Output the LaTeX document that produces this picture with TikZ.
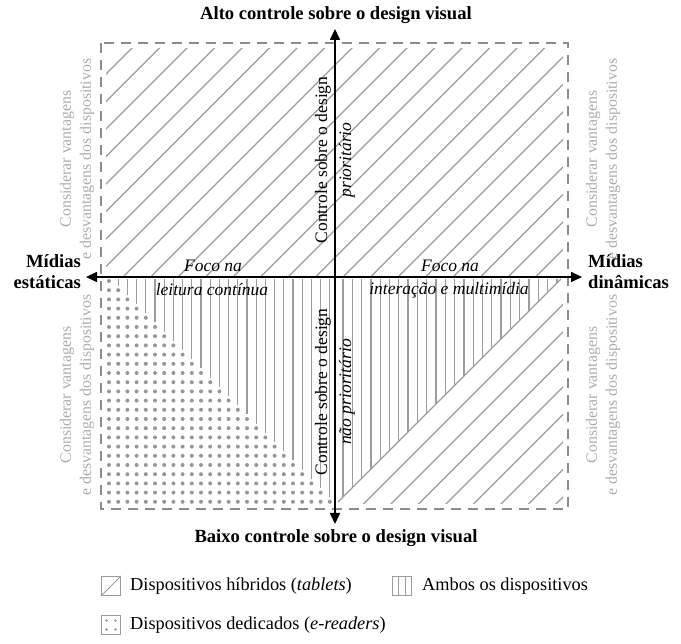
\documentclass[tikz,border=0pt]{standalone}
\usepackage{fontspec}
\setmainfont{Liberation Serif}
\usetikzlibrary{arrows.meta,calc}
\definecolor{hatch}{HTML}{9C9C9C}
\definecolor{dotgray}{HTML}{979797}
\definecolor{dashgray}{HTML}{8C8C8C}
\definecolor{sidegray}{HTML}{ACACAC}
\begin{document}
\begin{tikzpicture}[x=1pt,y=-1pt,
  hatchline/.style={hatch, line width=1.25pt},
  axisline/.style={line width=1.6pt, -{Triangle[length=11pt,width=10pt]}},
  dashbox/.style={dashgray, line width=1.8pt, dash pattern=on 10pt off 7pt},
  boldlab/.style={inner sep=0pt, font=\fontsize{18.6}{21}\selectfont\bfseries},
  itlab/.style={inner sep=0pt, font=\fontsize{17.5}{24}\selectfont\itshape},
  vertlab/.style={inner sep=0pt, font=\fontsize{17.5}{24}\selectfont, rotate=90, align=center},
  sidelab/.style={inner sep=0pt, text=sidegray, font=\fontsize{15.8}{20}\selectfont, rotate=90, align=center},
  leglab/.style={inner sep=0pt, anchor=west, font=\fontsize{18.3}{20}\selectfont},
  legicon/.style={draw=hatch, line width=1pt, minimum size=19pt, inner sep=0pt}
]
\useasboundingbox (0,0) rectangle (681,644);

% hatching upper half
\begin{scope}
  \clip (106,49) rectangle (563,277);
  \foreach \k in {0,...,26}{
    \pgfmathsetmacro{\c}{840-27.5*\k}
    \draw[hatchline] ({\c-600},600) -- (\c,0);
  }
\end{scope}

% lower right: vertical lines above diagonal
\begin{scope}
  \clip (338,279) -- (561,279) -- (338,502) -- cycle;
  \foreach \k in {0,...,24}{
    \pgfmathsetmacro{\xx}{343+9.3*\k}
    \draw[hatchline] (\xx,279) -- (\xx,510);
  }
\end{scope}
\coordinate (dA) at (338,502);
\coordinate (dB) at (561,279);
\draw[hatchline] (dA) -- (dB);
% lower right: diagonals below
\begin{scope}
  \clip (338,279) rectangle (563,504);
  \foreach \m in {1,...,8}{
    \pgfmathsetmacro{\c}{840+27.5*\m}
    \draw[hatchline] ({\c-600},600) -- (\c,0);
  }
\end{scope}

% lower left: vertical lines and dots
\foreach \j in {1,...,24}{
  \pgfmathsetmacro{\xx}{109+9.2*\j}
  \pgfmathsetmacro{\yy}{281+9.2*\j-4.5}
  \draw[hatchline] (\xx,279) -- (\xx,\yy);
}
\foreach \i in {0,...,24}{
  \foreach \j in {0,...,\i}{
    \fill[dotgray] ({109+9.2*\j},{281+9.2*\i}) circle[radius=2];
  }
}

% dashed frame
\draw[dashbox] (101,43) rectangle (568,509);

% axes
\coordinate (O) at (335,277);
\coordinate (top) at (335,29);
\coordinate (bot) at (335,524);
\coordinate (lft) at (86,277);
\coordinate (rgt) at (582,277);
\draw[axisline] (O) -- (top);
\draw[axisline] (O) -- (bot);
\draw[axisline] (O) -- (lft);
\draw[axisline] (O) -- (rgt);

% main labels
\node[boldlab] (alto) at (336,15) {Alto controle sobre o design visual};
\node[boldlab] (baixo) at (336,538) {Baixo controle sobre o design visual};
\node[boldlab, anchor=east, align=right] (estat) at (81,272) {Mídias\\estáticas};
\node[boldlab, anchor=west, align=left] (dinam) at (588,272) {Mídias\\dinâmicas};

% focus labels
\node[itlab] (foco1) at (213,266) {Foco na};
\node[itlab] (leit) at (212,290) {leitura contínua};
\node[itlab] (foco2) at (450,266) {Foco na};
\node[itlab] (inter) at (449,290) {interação e multimídia};

% vertical labels
\node[vertlab] (prio) at (335,160) {Controle sobre o design\\\textit{prioritário}};
\node[vertlab] (nprio) at (335,392) {Controle sobre o design\\\textit{não prioritário}};

% side labels
\node[sidelab] (sl1) at (77,159) {Considerar vantagens\\e desvantagens dos dispositivos};
\node[sidelab] (sl2) at (77,395) {Considerar vantagens\\e desvantagens dos dispositivos};
\node[sidelab] (sr1) at (603,159) {Considerar vantagens\\e desvantagens dos dispositivos};
\node[sidelab] (sr2) at (603,395) {Considerar vantagens\\e desvantagens dos dispositivos};

% legend
\node[legicon] (ic1) at (111,586) {};
\draw[hatch, line width=1pt] (ic1.south west) -- (ic1.north east);
\node[leglab] (lg1) at (130,586) {Dispositivos híbridos (\textit{tablets})};
\node[legicon] (ic2) at (402,586) {};
\draw[hatch, line width=1pt] ($(ic2.north west)!0.333!(ic2.north east)$) -- ($(ic2.south west)!0.333!(ic2.south east)$);
\draw[hatch, line width=1pt] ($(ic2.north west)!0.667!(ic2.north east)$) -- ($(ic2.south west)!0.667!(ic2.south east)$);
\node[leglab] (lg2) at (422,586) {Ambos os dispositivos};
\node[legicon] (ic3) at (111,625) {};
\foreach \dx in {-4.5,4.5}{\foreach \dy in {-4.5,4.5}{
  \fill[dotgray] ($(ic3.center)+(\dx,\dy)$) circle[radius=1.4];
}}
\node[leglab] (lg3) at (130,625) {Dispositivos dedicados (\textit{e-readers})};
\end{tikzpicture}
\end{document}
